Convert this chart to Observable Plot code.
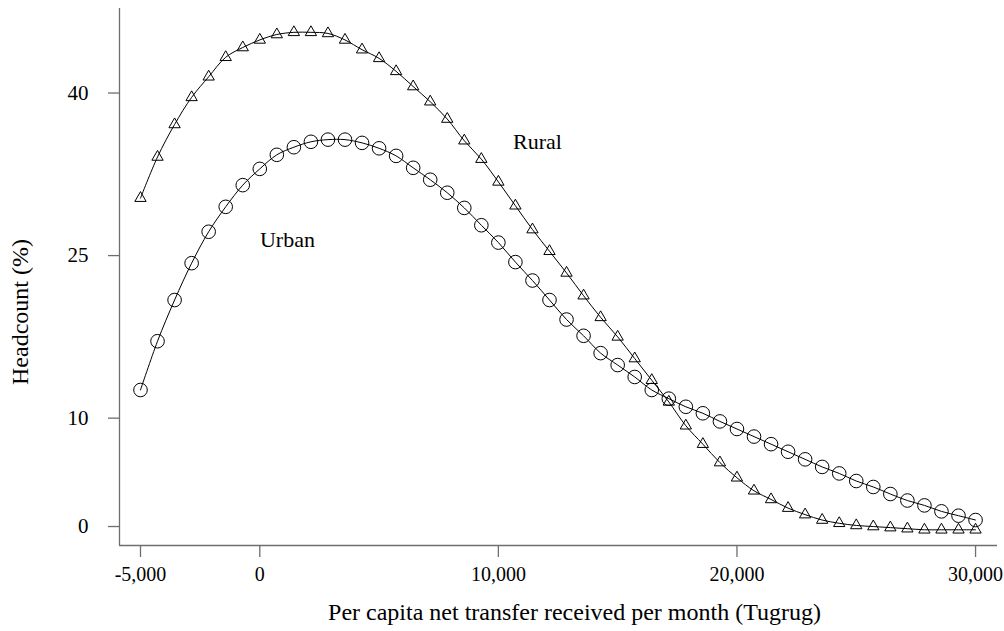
<!DOCTYPE html>
<html>
<head>
<meta charset="utf-8">
<script src="https://cdn.jsdelivr.net/npm/d3@7"></script>
<script src="https://cdn.jsdelivr.net/npm/@observablehq/plot@0.6"></script>
<style>
  html, body { margin: 0; padding: 0; background: #fff; }
  svg { display: block; }
</style>
</head>
<body>
<div id="chart"></div>
<script>
const transfer = [-5000, -4286, -3571, -2857, -2143, -1429, -714, 0, 714, 1429,
  2143, 2857, 3571, 4286, 5000, 5714, 6429, 7143, 7857, 8571,
  9286, 10000, 10714, 11429, 12143, 12857, 13571, 14286, 15000, 15714,
  16429, 17143, 17857, 18571, 19286, 20000, 20714, 21429, 22143, 22857,
  23571, 24286, 25000, 25714, 26429, 27143, 27857, 28571, 29286, 30000];

const rural = [30.3, 34.1, 37.1, 39.6, 41.5, 43.3, 44.2, 44.9, 45.4, 45.6,
  45.6, 45.5, 44.9, 44.0, 43.2, 42.0, 40.6, 39.2, 37.6, 35.6,
  33.9, 31.8, 29.6, 27.4, 25.4, 23.4, 21.3, 19.3, 17.5, 15.5,
  13.5, 11.5, 9.3, 7.6, 5.9, 4.5, 3.3, 2.5, 1.7, 1.1,
  0.6, 0.3, 0.1, 0.0, -0.1, -0.2, -0.3, -0.3, -0.3, -0.3];

const urban = [12.6, 17.1, 20.9, 24.3, 27.2, 29.5, 31.5, 33.0, 34.3, 35.0,
  35.5, 35.7, 35.7, 35.4, 34.9, 34.2, 33.1, 32.0, 30.8, 29.4,
  27.8, 26.2, 24.4, 22.7, 20.9, 19.1, 17.6, 16.0, 14.9, 13.8,
  12.6, 11.8, 11.05, 10.45, 9.7, 9.0, 8.3, 7.6, 6.9, 6.2,
  5.5, 4.9, 4.2, 3.65, 3.0, 2.4, 1.95, 1.4, 1.0, 0.6];

const xTicks = [-5000, 0, 10000, 20000, 30000];
const yTicks = [0, 10, 25, 40];
const seriesLabels = ["Rural", "Urban"];
const labelX = [11640, 1160];
const labelY = [35.5, 26.4];
const xTitle = "Per capita net transfer received per month (Tugrug)";
const yTitle = "Headcount (%)";

const ruralData = transfer.map((x, i) => ({x, y: rural[i]}));
const urbanData = transfer.map((x, i) => ({x, y: urban[i]}));
const labelData = seriesLabels.map((t, i) => ({t, x: labelX[i], y: labelY[i]}));

const xDomain = [-5880, 30920];
const yDomain = [-1.75, 47.8];
const axisColor = "#6e6e6e";
const font = "'Liberation Serif', 'Times New Roman', serif";

const chart = Plot.plot({
  width: 1004,
  height: 631,
  marginLeft: 119,
  marginRight: 7,
  marginTop: 8,
  marginBottom: 86,
  style: {fontFamily: font, fontSize: "20px", background: "#fff", color: "#000"},
  x: {domain: xDomain},
  y: {domain: yDomain},
  marks: [
    Plot.ruleX([xDomain[0]], {stroke: axisColor, strokeWidth: 1.3}),
    Plot.ruleY([yDomain[0]], {stroke: axisColor, strokeWidth: 1.3}),
    Plot.axisX(xTicks, {ticks: xTicks, tickSize: 12, tickPadding: 9, stroke: axisColor, strokeWidth: 1.3,
      fill: "#000", fontSize: 20, tickFormat: d => d3.format(",")(d).replace("−", "-"), label: null}),
    Plot.axisY(yTicks, {ticks: yTicks, tickSize: 11, tickPadding: 20, stroke: axisColor, strokeWidth: 1.3,
      fill: "#000", fontSize: 21, tickFormat: d => String(d), label: null}),
    Plot.line(ruralData, {x: "x", y: "y", curve: "catmull-rom", stroke: "#000", strokeWidth: 1}),
    Plot.line(urbanData, {x: "x", y: "y", curve: "catmull-rom", stroke: "#000", strokeWidth: 1}),
    Plot.dot(ruralData, {x: "x", y: "y", symbol: "triangle", r: 4.2, stroke: "#000", fill: "none", strokeWidth: 1}),
    Plot.dot(urbanData, {x: "x", y: "y", symbol: "circle", r: 6.8, stroke: "#000", fill: "none", strokeWidth: 1}),
    Plot.text(labelData, {x: "x", y: "y", text: "t", fontSize: 22, fill: "#000"}),
    Plot.text([xTitle], {frameAnchor: "bottom", text: d => d, dx: 16, dy: 74, fontSize: 24, fill: "#000"}),
    Plot.text([yTitle], {frameAnchor: "left", text: d => d, dx: -99, dy: 108, rotate: -90, fontSize: 24, fill: "#000"})
  ]
});
document.getElementById("chart").appendChild(chart);
</script>
</body>
</html>
